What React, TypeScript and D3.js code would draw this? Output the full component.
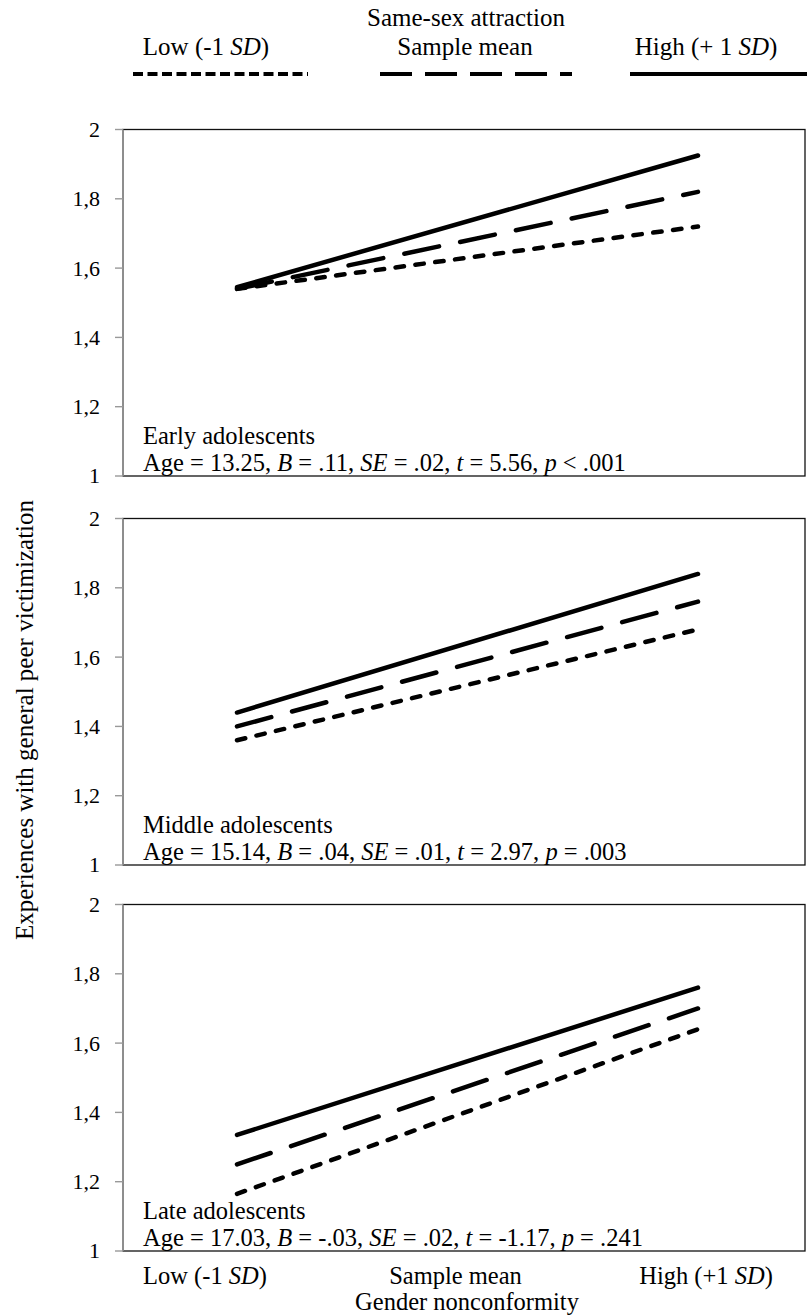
import React, { useRef, useEffect } from 'react';
import * as d3 from 'd3';

// values
const groups = ['Early adolescents', 'Middle adolescents', 'Late adolescents'];
const ages = ['13.25', '15.14', '17.03'];
const bValues = ['.11', '.04', '-.03'];
const seValues = ['.02', '.01', '.02'];
const tValues = ['5.56', '2.97', '-1.17'];
const pValues = ['< .001', '= .003', '= .241'];

// predicted victimization at gender nonconformity -1 SD and +1 SD
const gncLevels = [-1, 1];
const lowSSA = [[1.54, 1.72], [1.36, 1.68], [1.165, 1.64]];
const meanSSA = [[1.54, 1.82], [1.40, 1.76], [1.25, 1.70]];
const highSSA = [[1.545, 1.925], [1.44, 1.84], [1.335, 1.76]];

const yTicks = [1, 1.2, 1.4, 1.6, 1.8, 2];
const xTickLabels = [['Low (-1 ', 'SD', ')'], ['Sample mean', '', ''], ['High (+1 ', 'SD', ')']];
const legendLabels = [['Low (-1 ', 'SD', ')'], ['Sample mean', '', ''], ['High (+ 1 ', 'SD', ')']];

const W = 807;
const H = 1316;
const FONT = '"Liberation Serif", "Times New Roman", serif';

export default function App() {
  const svgRef = useRef<SVGSVGElement>(null);

  useEffect(() => {
    if (!svgRef.current) return;
    const svg = d3.select(svgRef.current);
    svg.selectAll('*').remove();

    const left = 123;
    const right = 805;
    const panelTops = [129.5, 518.5, 904.5];
    const panelH = 346.5;

    const x = d3.scaleLinear().domain([-1, 1]).range([237, 698]);
    const xLabel = d3.scalePoint<number>().domain([0, 1, 2]).range([205, 706]);
    const fmt = d3.formatLocale({ decimal: ',', thousands: '.', grouping: [3], currency: ['', ''] }).format('~g');

    const series = [
      { data: lowSSA, dash: '8.5,11.5', legendDash: '10,4.5' },
      { data: meanSSA, dash: '35.5,21.5', legendDash: '32,13' },
      { data: highSSA, dash: null, legendDash: null },
    ];

    // legend
    const legend = svg.append('g').attr('font-family', FONT).attr('font-size', 25).attr('fill', '#000');
    legend.append('text').attr('x', 466).attr('y', 26).attr('text-anchor', 'middle').text('Same-sex attraction');
    const legendTextX = [206, 465, 706];
    const legendLines = [[133, 308], [380, 572], [630, 807]];
    legendLabels.forEach((parts, i) => {
      const t = legend.append('text').attr('x', legendTextX[i]).attr('y', 55).attr('text-anchor', 'middle');
      t.append('tspan').text(parts[0]);
      if (parts[1]) t.append('tspan').attr('font-style', 'italic').text(parts[1]);
      if (parts[2]) t.append('tspan').text(parts[2]);
      const s = series[i];
      legend.append('line')
        .attr('x1', legendLines[i][0]).attr('x2', legendLines[i][1])
        .attr('y1', 74).attr('y2', 74)
        .attr('stroke', '#000').attr('stroke-width', 4)
        .attr('stroke-dasharray', s.legendDash);
    });

    groups.forEach((g, gi) => {
      const top = panelTops[gi];
      const y = d3.scaleLinear().domain([1, 2]).range([top + panelH, top]);
      const panel = svg.append('g');

      // frame
      panel.append('rect')
        .attr('x', left).attr('y', top).attr('width', right - left).attr('height', panelH)
        .attr('fill', 'none').attr('stroke', '#111').attr('stroke-width', 1.3);
      panel.append('line')
        .attr('x1', left).attr('x2', left).attr('y1', top).attr('y2', top + panelH)
        .attr('stroke', '#999').attr('stroke-width', 1.6);

      // y ticks
      yTicks.forEach(v => {
        panel.append('line')
          .attr('x1', left - 8).attr('x2', left).attr('y1', y(v)).attr('y2', y(v))
          .attr('stroke', '#999').attr('stroke-width', 1.4);
        panel.append('text')
          .attr('x', 100).attr('y', y(v)).attr('dy', '0.34em')
          .attr('text-anchor', 'end')
          .attr('font-family', FONT).attr('font-size', 22)
          .text(fmt(v));
      });

      // lines
      const line = d3.line<number>().x((_, i) => x(gncLevels[i])).y(d => y(d));
      series.forEach(s => {
        panel.append('path')
          .attr('d', line(s.data[gi]))
          .attr('fill', 'none').attr('stroke', '#000').attr('stroke-width', 4.5)
          .attr('stroke-linecap', 'round')
          .attr('stroke-dasharray', s.dash);
      });

      // group annotation
      const ann = panel.append('g').attr('font-family', FONT).attr('font-size', 24.5);
      ann.append('text').attr('x', 143).attr('y', top + panelH - 32).text(g);
      const t = ann.append('text').attr('x', 143).attr('y', top + panelH - 5);
      const parts: [string, boolean][] = [
        [`Age = ${ages[gi]}, `, false], ['B', true], [` = ${bValues[gi]}, `, false],
        ['SE', true], [` = ${seValues[gi]}, `, false], ['t', true], [` = ${tValues[gi]}, `, false],
        ['p', true], [` ${pValues[gi]}`, false],
      ];
      parts.forEach(([str, it]) => {
        t.append('tspan').attr('font-style', it ? 'italic' : 'normal').text(str);
      });
    });

    // x labels
    const xl = svg.append('g').attr('font-family', FONT).attr('font-size', 24.5);
    xTickLabels.forEach((parts, i) => {
      const t = xl.append('text').attr('x', xLabel(i)!).attr('y', 1284).attr('text-anchor', 'middle');
      t.append('tspan').text(parts[0]);
      if (parts[1]) t.append('tspan').attr('font-style', 'italic').text(parts[1]);
      if (parts[2]) t.append('tspan').text(parts[2]);
    });
    xl.append('text').attr('x', 467).attr('y', 1310).attr('text-anchor', 'middle').text('Gender nonconformity');

    // y title
    svg.append('text')
      .attr('transform', 'translate(33, 720) rotate(-90)')
      .attr('text-anchor', 'middle')
      .attr('font-family', FONT).attr('font-size', 25)
      .text('Experiences with general peer victimization');
  }, []);

  return (
    <div style={{ position: 'absolute', left: 0, top: 0 }}>
      <svg ref={svgRef} width={W} height={H} style={{ display: 'block', background: '#fff' }} />
    </div>
  );
}
